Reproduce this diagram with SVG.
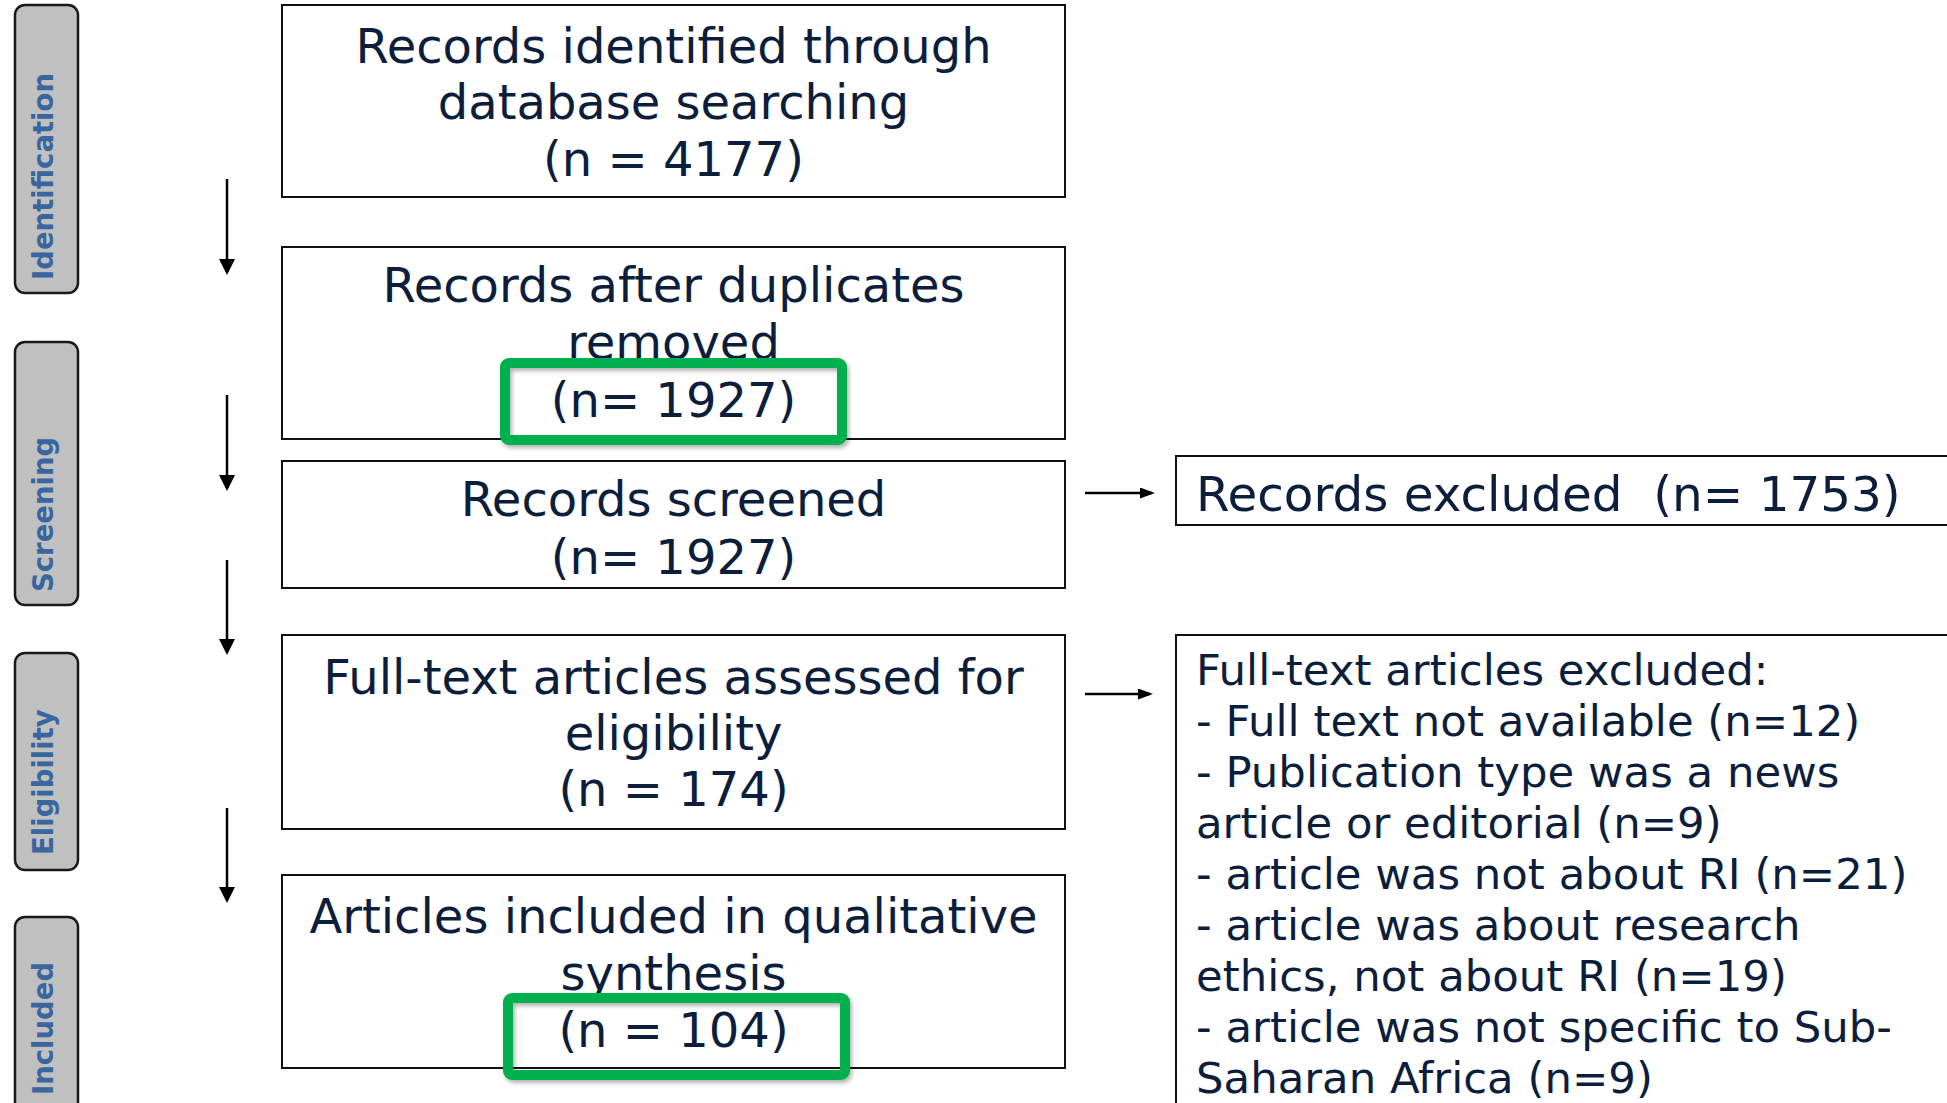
<svg xmlns="http://www.w3.org/2000/svg" width="1947" height="1103" viewBox="0 0 1947 1103">
<style>
.phase{fill:#c0c0c0;stroke:#1a1a1a;stroke-width:2.5}
.plabel{font-family:"DejaVu Sans",Verdana,sans-serif;font-weight:bold;font-size:27.5px;fill:#3a66a0}
.box{fill:#ffffff;stroke:#111111;stroke-width:2}
.t{font-family:"DejaVu Sans",Verdana,sans-serif;font-size:48px;fill:#0c1e3c}
.tc{text-anchor:middle}
.tx{font-size:48.4px}
.ts{font-family:"DejaVu Sans",Verdana,sans-serif;font-size:43.4px;fill:#0c1e3c}
.hl{fill:none;stroke:#00b050;stroke-width:10}
.conn{stroke:#000;stroke-width:2.5;fill:none}
</style>
<defs>
<marker id="ah" markerUnits="userSpaceOnUse" markerWidth="16" markerHeight="16" refX="13" refY="8" orient="auto">
<path d="M0,0 L16,8 L0,16 z" fill="#000"/>
</marker>
<marker id="ahs" markerUnits="userSpaceOnUse" markerWidth="15" markerHeight="11" refX="12" refY="5.5" orient="auto">
<path d="M0,0 L15,5.5 L0,11 z" fill="#000"/>
</marker>
<filter id="sh" x="-10%" y="-10%" width="125%" height="140%">
<feDropShadow dx="2" dy="3" stdDeviation="2" flood-color="#000" flood-opacity="0.3"/>
</filter>
</defs>

<g id="phase-identification">
<rect class="phase" x="15" y="5" width="63" height="288" rx="10"/>
<text class="plabel" transform="translate(53,280) rotate(-90)">Identification</text>
</g>
<g id="phase-screening">
<rect class="phase" x="15" y="342" width="63" height="263" rx="10"/>
<text class="plabel" transform="translate(53,592) rotate(-90)">Screening</text>
</g>
<g id="phase-eligibility">
<rect class="phase" x="15" y="653" width="63" height="217" rx="10"/>
<text class="plabel" transform="translate(53,855) rotate(-90)">Eligibility</text>
</g>
<g id="phase-included">
<rect class="phase" x="15" y="917" width="63" height="200" rx="10"/>
<text class="plabel" transform="translate(53,1095) rotate(-90)">Included</text>
</g>

<g id="identified">
<rect class="box" x="282" y="5" width="783" height="192"/>
<text class="t tc" x="673.5" y="63">Records identified through</text>
<text class="t tc" x="673.5" y="119">database searching</text>
<text class="t tc" x="673.5" y="176">(n = 4177)</text>
</g>
<g id="after-duplicates">
<rect class="box" x="282" y="247" width="783" height="192"/>
<text class="t tc" x="673.5" y="302">Records after duplicates</text>
<text class="t tc" x="673.5" y="359">removed</text>
<text class="t tc" x="673.5" y="417">(n= 1927)</text>
<rect class="hl" x="505" y="363" width="337" height="77" rx="4" filter="url(#sh)"/>
</g>
<g id="screened">
<rect class="box" x="282" y="461" width="783" height="127"/>
<text class="t tc" x="673.5" y="516">Records screened</text>
<text class="t tc" x="673.5" y="574">(n= 1927)</text>
</g>
<g id="fulltext-assessed">
<rect class="box" x="282" y="635" width="783" height="194"/>
<text class="t tc" x="673.5" y="694">Full-text articles assessed for</text>
<text class="t tc" x="673.5" y="750">eligibility</text>
<text class="t tc" x="673.5" y="806">(n = 174)</text>
</g>
<g id="included">
<rect class="box" x="282" y="875" width="783" height="193"/>
<text class="t tc" x="673.5" y="933">Articles included in qualitative</text>
<text class="t tc" x="673.5" y="990">synthesis</text>
<text class="t tc" x="673.5" y="1047">(n = 104)</text>
<rect class="hl" x="508" y="998" width="337" height="77" rx="4" filter="url(#sh)"/>
</g>
<g id="records-excluded">
<rect class="box" x="1176" y="456" width="790" height="69"/>
<text class="t tx" x="1196" y="511" xml:space="preserve">Records excluded  (n= 1753)</text>
</g>
<g id="fulltext-excluded">
<rect class="box" x="1176" y="635" width="790" height="490"/>
<text class="ts" x="1196" y="685">Full-text articles excluded:</text>
<text class="ts" x="1196" y="736">- Full text not available (n=12)</text>
<text class="ts" x="1196" y="787">- Publication type was a news</text>
<text class="ts" x="1196" y="838">article or editorial (n=9)</text>
<text class="ts" x="1196" y="889">- article was not about RI (n=21)</text>
<text class="ts" x="1196" y="940">- article was about research</text>
<text class="ts" x="1196" y="991">ethics, not about RI (n=19)</text>
<text class="ts" x="1196" y="1042">- article was not specific to Sub-</text>
<text class="ts" x="1196" y="1093">Saharan Africa (n=9)</text>
</g>

<g id="connectors">
<line class="conn" x1="227" y1="179" x2="227" y2="272" marker-end="url(#ah)"/>
<line class="conn" x1="227" y1="395" x2="227" y2="488" marker-end="url(#ah)"/>
<line class="conn" x1="227" y1="560" x2="227" y2="652" marker-end="url(#ah)"/>
<line class="conn" x1="227" y1="808" x2="227" y2="900" marker-end="url(#ah)"/>
<line class="conn" x1="1085" y1="493" x2="1152" y2="493" marker-end="url(#ahs)"/>
<line class="conn" x1="1085" y1="694" x2="1150" y2="694" marker-end="url(#ahs)"/>
</g>
</svg>
